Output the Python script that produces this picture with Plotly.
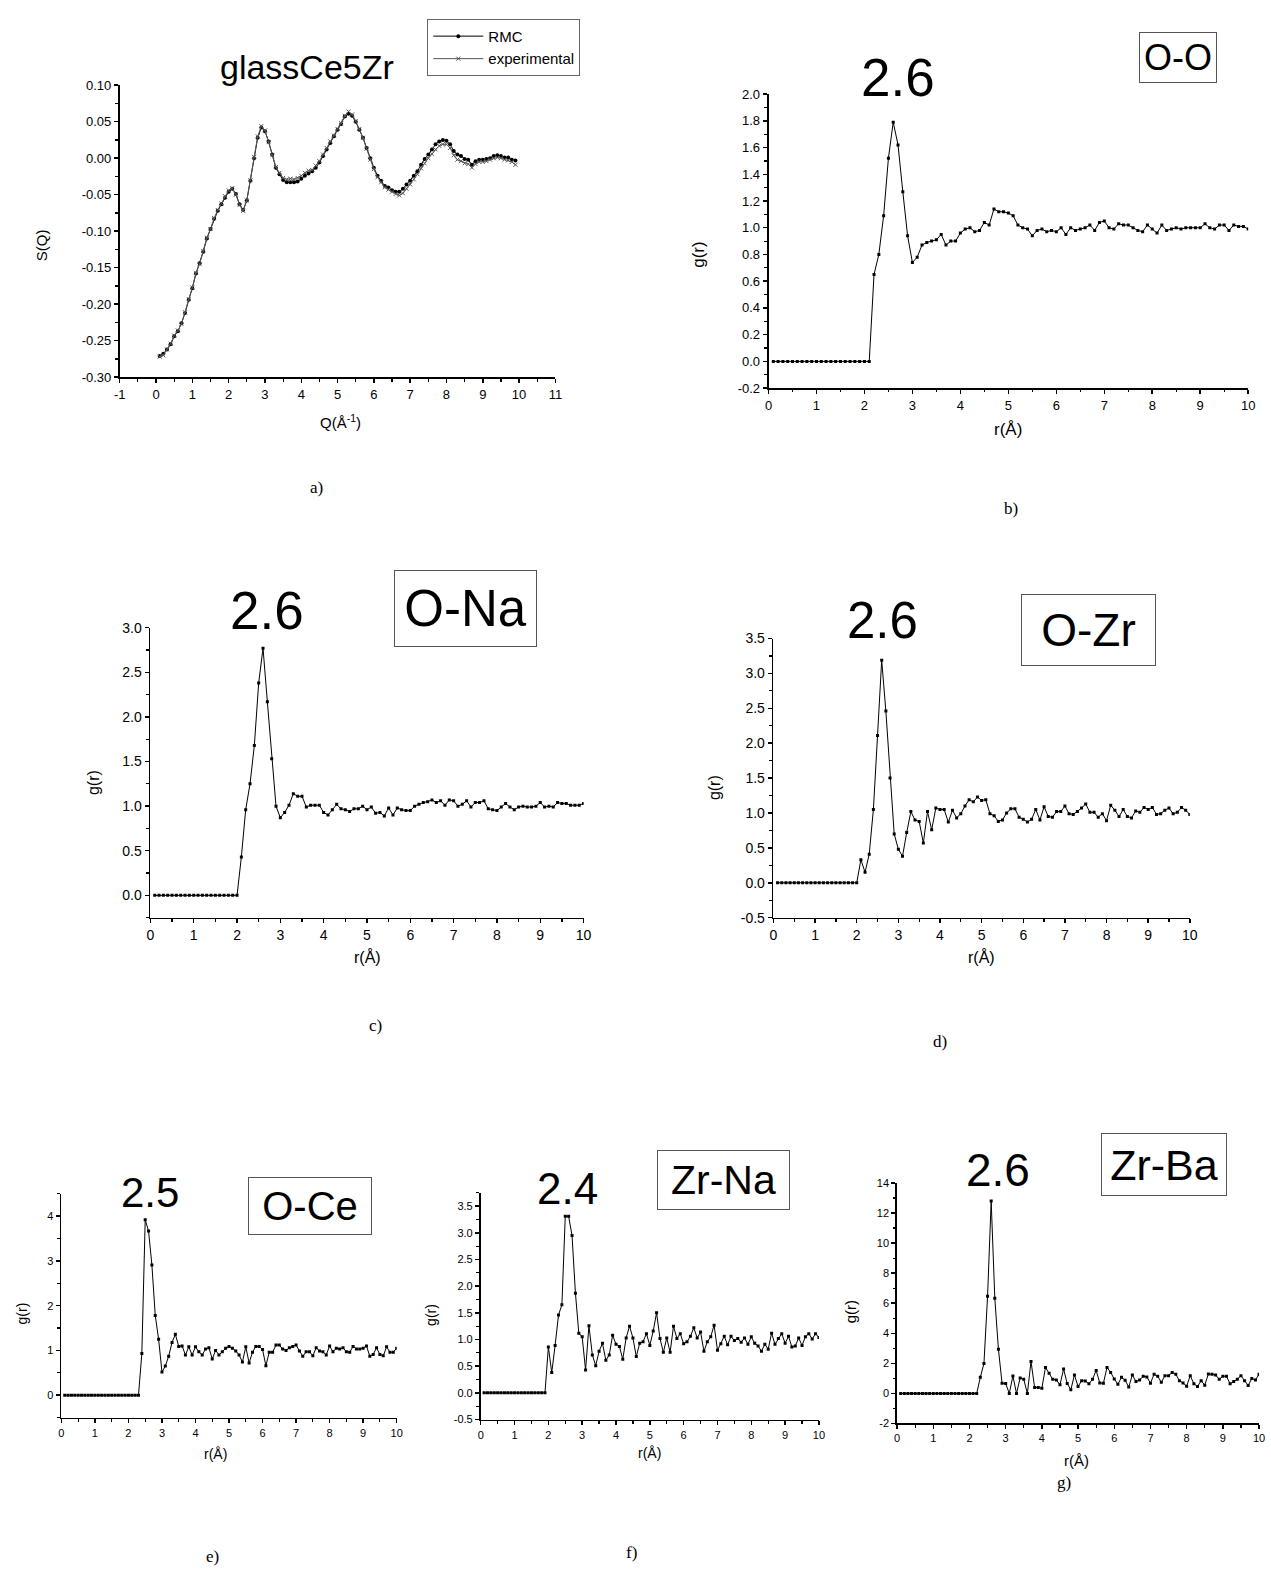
import numpy as np
import plotly.graph_objects as go

# ---------------- data ----------------
Q = [0.1, 0.2, 0.3, 0.4, 0.5, 0.6, 0.7, 0.8, 0.9, 1.0,
     1.1, 1.2, 1.3, 1.4, 1.5, 1.6, 1.7, 1.8, 1.9, 2.0,
     2.1, 2.2, 2.3, 2.4, 2.5, 2.6, 2.7, 2.8, 2.9, 3.0,
     3.1, 3.2, 3.3, 3.4, 3.5, 3.6, 3.7, 3.8, 3.9, 4.0,
     4.1, 4.2, 4.3, 4.4, 4.5, 4.6, 4.7, 4.8, 4.9, 5.0,
     5.1, 5.2, 5.3, 5.4, 5.5, 5.6, 5.7, 5.8, 5.9, 6.0,
     6.1, 6.2, 6.3, 6.4, 6.5, 6.6, 6.7, 6.8, 6.9, 7.0,
     7.1, 7.2, 7.3, 7.4, 7.5, 7.6, 7.7, 7.8, 7.9, 8.0,
     8.1, 8.2, 8.3, 8.4, 8.5, 8.6, 8.7, 8.8, 8.9, 9.0,
     9.1, 9.2, 9.3, 9.4, 9.5, 9.6, 9.7, 9.8, 9.9]

sq_rmc = [-0.271, -0.268, -0.262, -0.255, -0.244, -0.237, -0.226, -0.212, -0.194, -0.178,
          -0.158, -0.144, -0.128, -0.110, -0.097, -0.083, -0.072, -0.063, -0.054, -0.046,
          -0.042, -0.049, -0.063, -0.071, -0.058, -0.031, 0.000, 0.028, 0.042, 0.037,
          0.023, 0.005, -0.013, -0.022, -0.030, -0.033, -0.033, -0.033, -0.032, -0.028,
          -0.024, -0.021, -0.018, -0.013, -0.006, 0.003, 0.012, 0.021, 0.030, 0.039,
          0.047, 0.057, 0.061, 0.058, 0.050, 0.039, 0.028, 0.014, 0.000, -0.013,
          -0.024, -0.031, -0.038, -0.040, -0.044, -0.046, -0.046, -0.042, -0.036, -0.031,
          -0.024, -0.018, -0.009, -0.001, 0.005, 0.012, 0.019, 0.023, 0.025, 0.024,
          0.019, 0.010, 0.005, 0.003, -0.001, -0.002, -0.009, -0.004, -0.002, -0.002,
          -0.001, 0.000, 0.003, 0.004, 0.003, 0.001, 0.001, -0.002, -0.003]

sq_exp = [-0.272, -0.270, -0.262, -0.254, -0.243, -0.236, -0.227, -0.211, -0.193, -0.177,
          -0.157, -0.145, -0.127, -0.109, -0.097, -0.082, -0.071, -0.062, -0.052, -0.044,
          -0.041, -0.050, -0.064, -0.072, -0.058, -0.030, 0.002, 0.030, 0.044, 0.038,
          0.022, 0.004, -0.012, -0.020, -0.027, -0.029, -0.028, -0.029, -0.027, -0.024,
          -0.020, -0.017, -0.016, -0.010, -0.004, 0.005, 0.014, 0.023, 0.031, 0.040,
          0.048, 0.058, 0.064, 0.060, 0.051, 0.040, 0.028, 0.013, -0.002, -0.015,
          -0.026, -0.033, -0.040, -0.043, -0.046, -0.049, -0.051, -0.048, -0.042, -0.036,
          -0.029, -0.022, -0.014, -0.007, 0.000, 0.006, 0.012, 0.017, 0.019, 0.019,
          0.014, 0.004, -0.002, -0.004, -0.007, -0.008, -0.013, -0.008, -0.005, -0.005,
          -0.004, -0.002, 0.000, 0.001, 0.000, -0.002, -0.003, -0.005, -0.009]

r = [0.1, 0.2, 0.3, 0.4, 0.5, 0.6, 0.7, 0.8, 0.9, 1.0,
     1.1, 1.2, 1.3, 1.4, 1.5, 1.6, 1.7, 1.8, 1.9, 2.0,
     2.1, 2.2, 2.3, 2.4, 2.5, 2.6, 2.7, 2.8, 2.9, 3.0,
     3.1, 3.2, 3.3, 3.4, 3.5, 3.6, 3.7, 3.8, 3.9, 4.0,
     4.1, 4.2, 4.3, 4.4, 4.5, 4.6, 4.7, 4.8, 4.9, 5.0,
     5.1, 5.2, 5.3, 5.4, 5.5, 5.6, 5.7, 5.8, 5.9, 6.0,
     6.1, 6.2, 6.3, 6.4, 6.5, 6.6, 6.7, 6.8, 6.9, 7.0,
     7.1, 7.2, 7.3, 7.4, 7.5, 7.6, 7.7, 7.8, 7.9, 8.0,
     8.1, 8.2, 8.3, 8.4, 8.5, 8.6, 8.7, 8.8, 8.9, 9.0,
     9.1, 9.2, 9.3, 9.4, 9.5, 9.6, 9.7, 9.8, 9.9, 10.0]

g_OO = [0.0, 0.0, 0.0, 0.0, 0.0, 0.0, 0.0, 0.0, 0.0, 0.0,
        0.0, 0.0, 0.0, 0.0, 0.0, 0.0, 0.0, 0.0, 0.0, 0.0, 0.0,
        0.65, 0.80, 1.09, 1.52, 1.79, 1.62, 1.27, 0.94, 0.74, 0.78,
        0.87, 0.89, 0.90, 0.91, 0.95, 0.87, 0.90, 0.90, 0.96, 0.99,
        1.00, 0.97, 0.98, 1.04, 1.02, 1.14, 1.12, 1.12, 1.11, 1.09,
        1.02, 1.00, 0.99, 0.94, 0.98, 0.99, 0.97, 0.98, 0.97, 1.00,
        0.95, 1.00, 0.98, 0.99, 1.00, 1.02, 0.98, 1.04, 1.05, 1.00,
        0.99, 1.03, 1.02, 1.02, 1.00, 0.98, 0.97, 1.02, 0.99, 0.96,
        1.02, 0.98, 0.99, 1.00, 0.99, 1.00, 1.00, 1.00, 1.00, 1.03,
        1.00, 0.99, 1.02, 1.02, 0.98, 1.02, 1.01, 1.01, 0.99]

g_ONa = [0.0, 0.0, 0.0, 0.0, 0.0, 0.0, 0.0, 0.0, 0.0, 0.0,
         0.0, 0.0, 0.0, 0.0, 0.0, 0.0, 0.0, 0.0, 0.0, 0.0,
         0.43, 0.96, 1.25, 1.68, 2.38, 2.77, 2.17, 1.53, 1.00, 0.87,
         0.93, 1.01, 1.14, 1.11, 1.11, 0.99, 1.01, 1.01, 1.01, 0.93,
         0.90, 0.96, 1.02, 0.97, 0.96, 0.94, 0.97, 0.97, 1.00, 0.96,
         0.99, 0.92, 0.93, 0.89, 0.98, 0.90, 0.98, 0.96, 0.95, 0.95,
         1.00, 1.02, 1.04, 1.05, 1.07, 1.04, 1.06, 1.01, 1.07, 1.06,
         1.00, 1.02, 1.06, 0.99, 1.04, 1.04, 1.06, 0.97, 0.96, 0.95,
         0.99, 1.03, 0.99, 0.96, 0.99, 1.00, 0.99, 0.99, 1.00, 1.04,
         0.99, 1.00, 0.99, 1.04, 1.03, 1.03, 1.01, 1.01, 1.01, 1.03]

g_OZr = [0.0, 0.0, 0.0, 0.0, 0.0, 0.0, 0.0, 0.0, 0.0, 0.0,
         0.0, 0.0, 0.0, 0.0, 0.0, 0.0, 0.0, 0.0, 0.0, 0.0,
         0.33, 0.15, 0.41, 1.05, 2.11, 3.19, 2.46, 1.50, 0.70, 0.48,
         0.38, 0.72, 1.02, 0.90, 0.88, 0.57, 1.02, 0.76, 1.07, 1.05,
         1.05, 0.87, 1.04, 0.93, 0.99, 1.10, 1.19, 1.16, 1.23, 1.18,
         1.19, 0.99, 0.96, 0.88, 0.90, 1.00, 1.06, 1.06, 0.94, 0.91,
         0.87, 0.91, 1.05, 0.90, 1.09, 0.95, 0.94, 1.02, 1.02, 1.10,
         0.99, 0.98, 1.02, 1.07, 1.13, 1.01, 1.01, 0.94, 0.99, 0.89,
         1.11, 1.04, 0.95, 1.05, 0.95, 0.93, 1.03, 1.01, 1.08, 1.05,
         1.08, 0.98, 0.99, 1.04, 1.07, 0.99, 1.01, 1.08, 1.04, 0.98]

g_OCe = [0.0, 0.0, 0.0, 0.0, 0.0, 0.0, 0.0, 0.0, 0.0, 0.0,
         0.0, 0.0, 0.0, 0.0, 0.0, 0.0, 0.0, 0.0, 0.0, 0.0,
         0.0, 0.0, 0.0,
         0.93, 3.92, 3.67, 2.91, 1.78, 1.25, 0.52, 0.65, 0.87, 1.18,
         1.36, 1.09, 1.10, 0.90, 1.08, 0.90, 1.08, 0.97, 0.90, 1.03,
         1.06, 0.81, 1.00, 0.90, 0.97, 1.05, 1.09, 1.05, 0.99, 0.90,
         0.74, 1.08, 0.72, 0.96, 1.09, 1.09, 1.02, 0.66, 0.96, 0.96,
         1.12, 1.12, 1.03, 1.00, 1.06, 1.09, 1.12, 0.99, 0.87, 0.97,
         0.97, 0.88, 1.06, 0.99, 0.97, 0.90, 1.10, 0.97, 1.05, 1.03,
         1.06, 0.97, 0.96, 1.09, 1.03, 1.03, 1.05, 1.10, 0.87, 0.91,
         1.06, 0.91, 0.88, 1.08, 0.96, 0.96, 1.05]

g_ZrNa = [0.0, 0.0, 0.0, 0.0, 0.0, 0.0, 0.0, 0.0, 0.0, 0.0,
          0.0, 0.0, 0.0, 0.0, 0.0, 0.0, 0.0, 0.0, 0.0,
          0.86, 0.38, 0.89, 1.46, 1.65, 3.31, 3.31, 2.95, 1.87, 1.12,
          1.05, 0.43, 1.26, 0.71, 0.51, 0.78, 0.93, 0.61, 0.71, 1.08,
          0.91, 0.87, 0.63, 1.03, 1.25, 1.03, 0.68, 0.93, 0.96, 1.11,
          0.89, 1.16, 1.50, 1.02, 0.76, 1.03, 0.76, 1.25, 1.02, 1.11,
          0.92, 0.96, 1.06, 1.22, 1.03, 1.14, 0.78, 0.96, 1.05, 1.27,
          0.80, 0.92, 1.06, 0.90, 1.06, 0.98, 1.02, 0.95, 1.03, 0.91,
          1.05, 0.93, 0.88, 0.78, 0.91, 0.82, 1.12, 0.91, 1.02, 1.11,
          0.93, 1.06, 0.86, 0.88, 1.03, 0.89, 1.05, 1.11, 1.01, 1.11,
          1.04]

g_ZrBa = [0.0, 0.0, 0.0, 0.0, 0.0, 0.0, 0.0, 0.0, 0.0, 0.0,
          0.0, 0.0, 0.0, 0.0, 0.0, 0.0, 0.0, 0.0, 0.0, 0.0,
          0.0, 0.0,
          1.07, 1.99, 6.46, 12.8, 6.33, 2.94, 0.68, 0.66, 0.0, 1.16,
          0.0, 1.03, 0.94, 0.0, 2.13, 0.39, 0.39, 0.35, 1.73, 1.34,
          0.94, 0.90, 0.57, 1.62, 0.66, 0.24, 1.23, 0.46, 0.85, 0.83,
          0.64, 0.94, 1.53, 0.70, 0.68, 1.73, 1.40, 0.96, 0.61, 1.07,
          0.88, 0.42, 1.23, 0.79, 0.90, 1.14, 1.10, 0.68, 1.27, 1.14,
          0.74, 1.18, 1.18, 1.40, 1.27, 0.85, 0.70, 0.48, 1.18, 0.64,
          0.46, 0.85, 0.55, 1.29, 1.27, 1.23, 0.94, 1.14, 1.14, 0.64,
          0.79, 0.94, 1.18, 0.85, 0.53, 0.99, 0.90, 1.27]

# tick labels
q_ticks = [-1, 0, 1, 2, 3, 4, 5, 6, 7, 8, 9, 10, 11]
q_ticktext = ["-1", "0", "1", "2", "3", "4", "5", "6", "7", "8", "9", "10", "11"]
s_ticks = [-0.30, -0.25, -0.20, -0.15, -0.10, -0.05, 0.00, 0.05, 0.10]
s_ticktext = ["-0.30", "-0.25", "-0.20", "-0.15", "-0.10", "-0.05", "0.00", "0.05", "0.10"]
r_ticks = [0, 1, 2, 3, 4, 5, 6, 7, 8, 9, 10]
r_ticktext = ["0", "1", "2", "3", "4", "5", "6", "7", "8", "9", "10"]
b_ticks = [-0.2, 0.0, 0.2, 0.4, 0.6, 0.8, 1.0, 1.2, 1.4, 1.6, 1.8, 2.0]
b_ticktext = ["-0.2", "0.0", "0.2", "0.4", "0.6", "0.8", "1.0", "1.2", "1.4", "1.6", "1.8", "2.0"]
c_ticks = [0.0, 0.5, 1.0, 1.5, 2.0, 2.5, 3.0]
c_ticktext = ["0.0", "0.5", "1.0", "1.5", "2.0", "2.5", "3.0"]
d_ticks = [-0.5, 0.0, 0.5, 1.0, 1.5, 2.0, 2.5, 3.0, 3.5]
d_ticktext = ["-0.5", "0.0", "0.5", "1.0", "1.5", "2.0", "2.5", "3.0", "3.5"]
e_ticks = [0, 1, 2, 3, 4]
e_ticktext = ["0", "1", "2", "3", "4"]
g_ticks = [-2, 0, 2, 4, 6, 8, 10, 12, 14]
g_ticktext = ["-2", "0", "2", "4", "6", "8", "10", "12", "14"]

peak_labels = ["2.6", "2.6", "2.6", "2.5", "2.4", "2.6"]
pair_labels = ["O-O", "O-Na", "O-Zr", "O-Ce", "Zr-Na", "Zr-Ba"]
captions = ["a)", "b)", "c)", "d)", "e)", "f)", "g)"]

# ---------------- layout helpers ----------------
W, H = 1271, 1577
SANS = "Liberation Sans, Arial, sans-serif"
SERIF = "Liberation Serif, Times New Roman, serif"


def fx(px):
    return px / W


def fy(py):
    return 1 - py / H


fig = go.Figure()

panels = [
    dict(x0=115, x1=555.5, y0=78, y1=373, xr=[-1, 11], yr=[-0.30, 0.10],
         xt=q_ticks, xtt=q_ticktext, xminor=0.5, yt=s_ticks, ytt=s_ticktext, yminor=0.025, tf=13),
    dict(x0=771, x1=1256, y0=87, y1=384, xr=[0, 10], yr=[-0.2, 2.0],
         xt=r_ticks, xtt=r_ticktext, xminor=0.5, yt=b_ticks, ytt=b_ticktext, yminor=0.1, tf=13),
    dict(x0=146, x1=584, y0=626, y1=919, xr=[0, 10], yr=[-0.25, 3.0],
         xt=r_ticks, xtt=r_ticktext, xminor=0.5, yt=c_ticks, ytt=c_ticktext, yminor=0.25, tf=14),
    dict(x0=776, x1=1197, y0=637, y1=919, xr=[0, 10], yr=[-0.5, 3.5],
         xt=r_ticks, xtt=r_ticktext, xminor=0.5, yt=d_ticks, ytt=d_ticktext, yminor=0.25, tf=14),
    dict(x0=56, x1=395, y0=1198, y1=1424, xr=[0, 10], yr=[-0.5, 4.5],
         xt=r_ticks, xtt=r_ticktext, xminor=0.5, yt=e_ticks, ytt=e_ticktext, yminor=0.5, tf=11),
    dict(x0=480, x1=822, y0=1197, y1=1426, xr=[0, 10], yr=[-0.5, 3.75],
         xt=r_ticks, xtt=r_ticktext, xminor=0.5, yt=d_ticks, ytt=d_ticktext, yminor=0.25, tf=11),
    dict(x0=901, x1=1267, y0=1187, y1=1430, xr=[0, 10], yr=[-2, 14],
         xt=r_ticks, xtt=r_ticktext, xminor=0.5, yt=g_ticks, ytt=g_ticktext, yminor=1, tf=11),
]


def minor_vals(lo, hi, step):
    return [float(v) for v in np.round(np.arange(lo, hi + step / 2, step), 4)]


layout_axes = {}
for i, p in enumerate(panels, start=1):
    xk = "xaxis" if i == 1 else f"xaxis{i}"
    yk = "yaxis" if i == 1 else f"yaxis{i}"
    ya = "y" if i == 1 else f"y{i}"
    xa = "x" if i == 1 else f"x{i}"
    common = dict(showline=True, linecolor="black", linewidth=1.8, ticks="outside",
                  ticklen=4, tickwidth=1.5, tickcolor="black", showgrid=False,
                  zeroline=False, fixedrange=True,
                  tickfont=dict(family=SANS, size=p["tf"], color="black"))
    layout_axes[xk] = dict(common, domain=[fx(p["x0"]), fx(p["x1"])], anchor=ya,
                           range=p["xr"], tickmode="array", tickvals=p["xt"], ticktext=p["xtt"],
                           minor=dict(tickmode="array",
                                      tickvals=minor_vals(p["xr"][0], p["xr"][1], p["xminor"]),
                                      ticks="outside", ticklen=2.5, tickwidth=1.2, tickcolor="black",
                                      showgrid=False))
    layout_axes[yk] = dict(common, domain=[fy(p["y1"]), fy(p["y0"])], anchor=xa,
                           range=p["yr"], tickmode="array", tickvals=p["yt"], ticktext=p["ytt"],
                           minor=dict(tickmode="array",
                                      tickvals=minor_vals(p["yr"][0], p["yr"][1], p["yminor"]),
                                      ticks="outside", ticklen=2.5, tickwidth=1.2, tickcolor="black",
                                      showgrid=False))

# ---------------- traces ----------------
fig.add_trace(go.Scatter(x=Q, y=sq_rmc, mode="lines+markers", name="RMC",
                         line=dict(color="black", width=1),
                         marker=dict(symbol="circle", size=4, color="black"),
                         xaxis="x", yaxis="y"))
fig.add_trace(go.Scatter(x=Q, y=sq_exp, mode="lines+markers", name="experimental",
                         line=dict(color="#555555", width=1),
                         marker=dict(symbol="x-thin", size=4, color="#555555",
                                     line=dict(width=1, color="#555555")),
                         xaxis="x", yaxis="y"))

series = [g_OO, g_ONa, g_OZr, g_OCe, g_ZrNa, g_ZrBa]
for k, vals in enumerate(series, start=2):
    fig.add_trace(go.Scatter(x=r[:len(vals)], y=vals, mode="lines+markers", showlegend=False,
                             line=dict(color="black", width=1),
                             marker=dict(symbol="square", size=3, color="black"),
                             xaxis=f"x{k}", yaxis=f"y{k}"))

# ---------------- annotations ----------------
ann = []


def text_at(txt, px, py, size, family=SANS, angle=0):
    ann.append(dict(text=txt, x=fx(px), y=fy(py), xref="paper", yref="paper",
                    xanchor="center", yanchor="middle", showarrow=False, textangle=angle,
                    font=dict(family=family, size=size, color="black")))


text_at("glassCe5Zr", 304, 60, 34)

peak_pos = [(902, 70, 53), (263.5, 609, 53), (886, 619, 51), (146, 1197, 42),
            (567.5, 1193, 44), (1003, 1174, 46)]
for lab, (px, py, sz) in zip(peak_labels, peak_pos):
    text_at(lab, px, py, sz)

box_pos = [(1185, 50.5, 78, 51, 36), (464.5, 606.5, 143, 77, 51), (1094.5, 628, 135, 72, 46),
           (307, 1210, 124, 58, 40), (725.5, 1184, 133, 60, 41), (1171, 1168.5, 126, 63, 43)]
for lab, (px, py, bw, bh, sz) in zip(pair_labels, box_pos):
    ann.append(dict(text=lab, x=fx(px), y=fy(py), xref="paper", yref="paper",
                    xanchor="center", yanchor="middle", showarrow=False,
                    width=bw - 2, height=bh - 2, borderpad=0, bordercolor="#555555",
                    borderwidth=1, bgcolor="white", align="center", valign="middle",
                    font=dict(family=SANS, size=sz, color="black")))

# axis titles
text_at("S(Q)", 36, 240, 15, angle=-90)
text_at("Q(Å<sup>-1</sup>)", 338, 418, 15)
ytitle_pos = [(700, 249, 17), (88, 783, 16), (716, 788, 16), (16, 1319, 14), (429, 1320, 14), (854, 1317, 15)]
xtitle_pos = [(1013, 426, 17), (366, 959, 16), (986, 959, 16), (212, 1461, 14), (651, 1460, 14), (1082, 1467, 15)]
for (px, py, sz) in ytitle_pos:
    text_at("g(r)", px, py, sz, angle=-90)
for (px, py, sz) in xtitle_pos:
    text_at("r(Å)", px, py, sz)

cap_pos = [(314, 484), (1016, 506), (374, 1028), (944, 1044), (209, 1564), (632, 1560), (1070, 1490)]
for lab, (px, py) in zip(captions, cap_pos):
    text_at(lab, px, py, 17, family=SERIF)

fig.update_layout(
    width=W, height=H, autosize=False,
    margin=dict(l=0, r=0, t=0, b=0),
    paper_bgcolor="white", plot_bgcolor="white",
    font=dict(family=SANS, color="black"),
    annotations=ann,
    legend=dict(x=fx(426), y=fy(11), xanchor="left", yanchor="top",
                bordercolor="#666666", borderwidth=1, bgcolor="white",
                font=dict(family=SANS, size=15, color="black"),
                itemwidth=50, tracegroupgap=0),
    **layout_axes,
)

fig.write_html("out.html",
               config={"displayModeBar": False, "staticPlot": True},
               post_script="document.body.style.margin='0px';document.body.style.padding='0px';")
